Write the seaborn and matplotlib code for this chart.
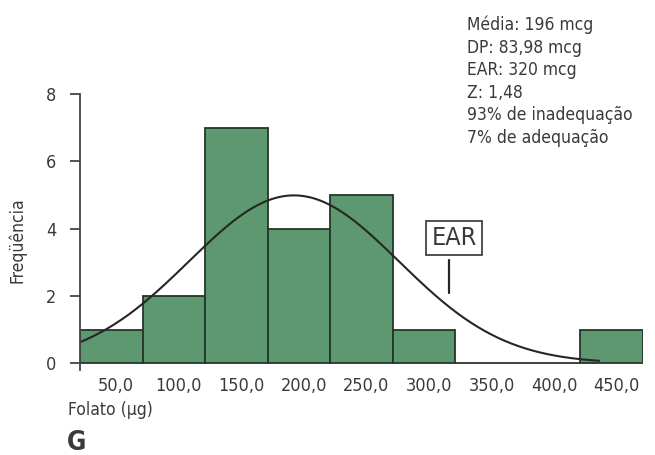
import numpy as np
import pandas as pd
import matplotlib
matplotlib.use("Agg")
import matplotlib.pyplot as plt
import matplotlib.transforms as mtransforms
from matplotlib import font_manager
import seaborn as sns

# Folate intake distribution (bins of 50 µg, labelled by midpoint)
bin_centers = [50, 100, 150, 200, 250, 300, 350, 400, 450]
frequencies = [1, 2, 7, 4, 5, 1, 0, 0, 1]
tick_labels = ["50,0", "100,0", "150,0", "200,0", "250,0", "300,0", "350,0", "400,0", "450,0"]
y_ticks = [0, 2, 4, 6, 8]

mean_folate = 196.0
sd_folate = 83.98
ear_value = 320.0
bin_width = 50.0

stats_lines = [
    "Média: 196 mcg",
    "DP: 83,98 mcg",
    "EAR: 320 mcg",
    "Z: 1,48",
    "93% de inadequação",
    "7% de adequação",
]

sns.set_theme(style="white")
# prefer a condensed face when one is available
condensed = [f for f in font_manager.fontManager.ttflist
             if f.name == "DejaVu Sans" and "ondensed" in f.fname and "Bold" not in f.fname
             and "Oblique" not in f.fname]
if condensed:
    plt.rcParams["font.family"] = ["DejaVu Sans"]
    plt.rcParams["font.stretch"] = "condensed"
else:
    plt.rcParams["font.family"] = ["Roboto", "DejaVu Sans"]
text_color = "#3a3a3a"
bar_color = "#5e9870"
edge_color = "#24362a"

fig = plt.figure(figsize=(6.55, 4.55), dpi=100)
ax = fig.add_axes([80 / 655, 1 - 370 / 455, 563 / 655, 276 / 455])

df = pd.DataFrame({"folato": bin_centers, "freq": frequencies})
edges = [c - bin_width / 2 for c in bin_centers] + [bin_centers[-1] + bin_width / 2]
sns.histplot(data=df, x="folato", weights="freq", bins=edges, ax=ax,
             color=bar_color, alpha=1.0, edgecolor=edge_color, linewidth=1.3)

# Fitted normal curve scaled to counts per bin
n_total = sum(frequencies)
xs = np.linspace(edges[0], 440, 300)
ys = n_total * bin_width / (sd_folate * np.sqrt(2 * np.pi)) * np.exp(-0.5 * ((xs - mean_folate) / sd_folate) ** 2)
sns.lineplot(x=xs, y=ys, ax=ax, color="#262626", linewidth=1.5)

# EAR marker
ax.plot([ear_value, ear_value], [2.08, 3.07], color="#262626", linewidth=1.6)
ax.text(ear_value + 4, 3.72, "EAR", ha="center", va="center", fontsize=18, color=text_color,
        bbox=dict(boxstyle="square,pad=0.2", facecolor="white", edgecolor="#333333", linewidth=1.2))

ax.set_xlim(edges[0], edges[-1])
ax.set_ylim(-0.2, 8)
ax.set_yticks(y_ticks)
ax.set_yticklabels([str(t) for t in y_ticks])
ax.set_xticks(bin_centers)
ax.set_xticklabels(tick_labels)

for side in ["top", "right", "bottom"]:
    ax.spines[side].set_visible(False)
ax.spines["left"].set_color("#444444")
ax.spines["left"].set_linewidth(1.3)
ax.spines["left"].set_bounds(-0.2, 8)

ax.tick_params(axis="y", which="both", left=True, length=7, width=1.3, color="#444444",
               labelsize=13, labelcolor=text_color, pad=10)
ax.tick_params(axis="x", bottom=False, labelsize=13, labelcolor=text_color, pad=-1)
offset = mtransforms.ScaledTranslation(5 / 100, 0, fig.dpi_scale_trans)
for lbl in ax.get_xticklabels():
    lbl.set_transform(lbl.get_transform() + offset)

ax.set_xlabel("")
ax.set_ylabel("")
fig.text(17 / 655, 1 - 240 / 455, "Freqüência", rotation=90, ha="center", va="center",
         fontsize=12.5, color=text_color)
fig.text(68 / 655, 1 - 410 / 455, "Folato (µg)", ha="left", va="center",
         fontsize=12.5, color=text_color)
fig.text(67 / 655, 1 - 443 / 455, "G", ha="left", va="center",
         fontsize=19, fontweight="bold", color=text_color)

for i, line in enumerate(stats_lines):
    fig.text(467 / 655, 1 - (25 + i * 22.6) / 455, line, ha="left", va="center",
             fontsize=12.5, color=text_color)

fig.savefig("out.png", dpi=100, facecolor="white")
